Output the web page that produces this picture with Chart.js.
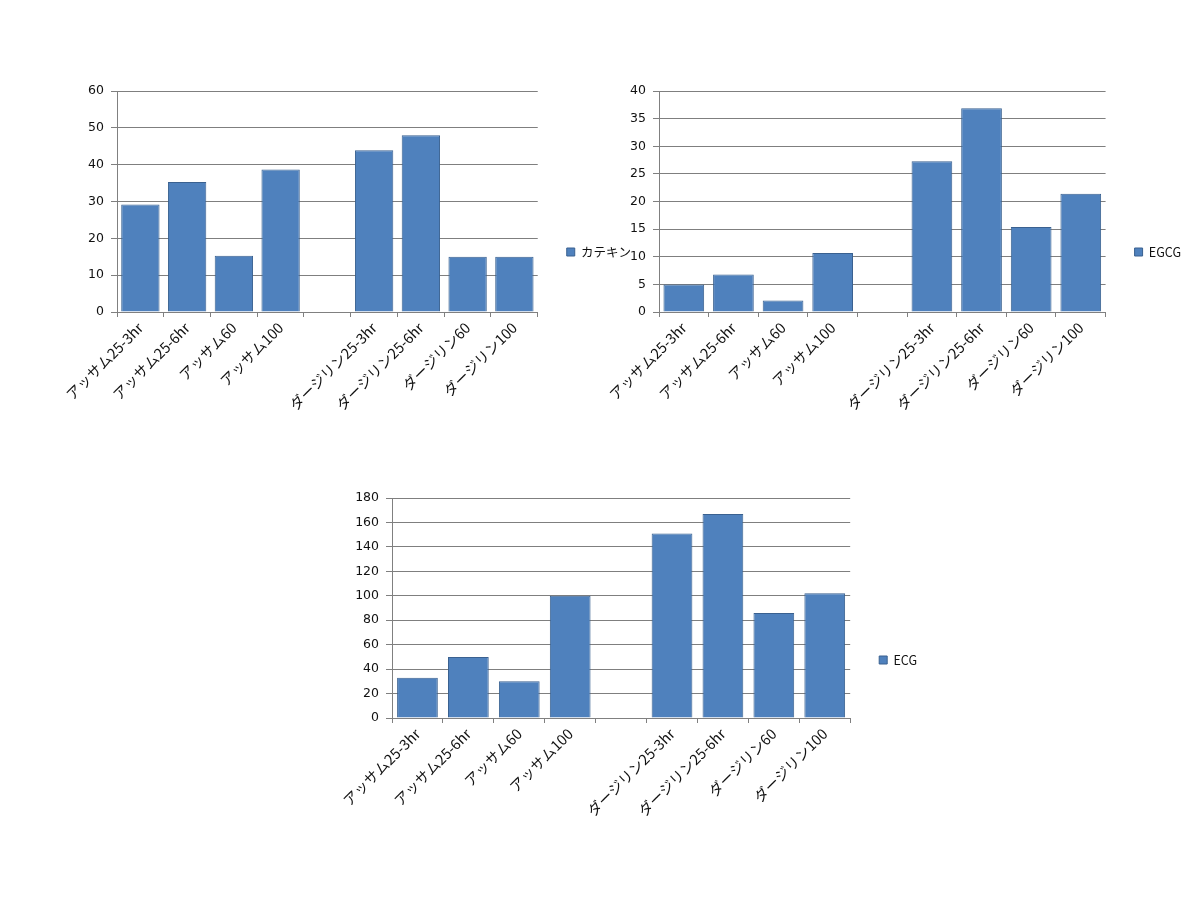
<!DOCTYPE html>
<html><head><meta charset="utf-8">
<script src="https://cdn.jsdelivr.net/npm/chart.js@4.4.0/dist/chart.umd.min.js"></script>
<style>
html,body{margin:0;padding:0;background:#fff;}
body{width:1200px;height:900px;position:relative;overflow:hidden;}
.box{position:absolute;}
</style></head><body>
<div class="box" id="b1" style="left:30px;top:75px;width:621px;height:354px"><canvas id="c1"></canvas></div>
<div class="box" id="b2" style="left:590px;top:75px;width:610px;height:354px"><canvas id="c2"></canvas></div>
<div class="box" id="b3" style="left:300px;top:480px;width:640px;height:360px"><canvas id="c3"></canvas></div>
<script>
const categories = ["アッサム25-3hr","アッサム25-6hr","アッサム60","アッサム100","","ダージリン25-3hr","ダージリン25-6hr","ダージリン60","ダージリン100"];
const catechin = [29.2, 35.3, 15.3, 38.7, null, 43.9, 48.0, 15.0, 15.0];
const egcg = [5.0, 6.8, 2.1, 10.7, null, 27.3, 36.9, 15.4, 21.4];
const ecg = [33, 50, 30, 100, null, 151, 167, 86, 102];
const seriesNames = ["カテキン","EGCG","ECG"];
const yMax = [60, 40, 180];
const yStep = [10, 5, 20];

const JP = '"Noto Sans CJK JP", sans-serif';
const NUM = '"DejaVu Sans", sans-serif';

function makeChart(id, name, data, max, step, geo) {
  new Chart(document.getElementById(id), {
    type: 'bar',
    data: { labels: categories, datasets: [{
      label: name, data: data,
      backgroundColor: '#4F81BD', borderColor: '#3A6190', borderWidth: 1,
      categoryPercentage: geo.cat, barPercentage: 1.0
    }]},
    options: {
      responsive: true, maintainAspectRatio: false, animation: false,
      layout: { padding: { top: geo.top, right: geo.right, left: 0, bottom: geo.bottom } },
      plugins: {
        legend: { position: 'right', align: 'center',
          labels: { boxWidth: 8, boxHeight: 8, padding: geo.lpad, color: '#111',
            font: { family: JP, size: 12.5 } } },
        tooltip: { enabled: false }
      },
      scales: {
        x: {
          grid: { display: true, offset: true, drawOnChartArea: false, drawTicks: true, tickLength: 5, color: '#808080' },
          border: { color: '#808080' },
          ticks: { autoSkip: false, maxRotation: 45, minRotation: 45, padding: 2, color: '#111',
            font: { family: JP, size: 14.5 } },
          afterFit: s => { s.height = geo.xh; }
        },
        y: {
          min: 0, max: max,
          grid: { color: '#7f7f7f', tickLength: 6, lineWidth: 1 },
          border: { color: '#808080' },
          ticks: { stepSize: step, padding: 7, color: '#111', font: { family: NUM, size: 12.5 } },
          afterFit: s => { s.width = geo.yw; }
        }
      }
    }
  });
}

makeChart('c1', seriesNames[0], catechin, yMax[0], yStep[0], {top:16, right:10, bottom:16, lpad:29, xh:101, yw:87, cat:0.82});
makeChart('c2', seriesNames[1], egcg, yMax[1], yStep[1], {top:16, right:9, bottom:16, lpad:29, xh:101, yw:69, cat:0.82});
makeChart('c3', seriesNames[2], ecg, yMax[2], yStep[2], {top:18, right:13, bottom:18, lpad:29, xh:104, yw:92, cat:0.80});
</script>
</body></html>
